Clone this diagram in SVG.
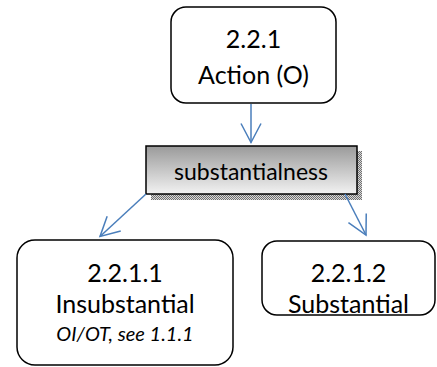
<svg xmlns="http://www.w3.org/2000/svg" width="437" height="367" viewBox="0 0 437 367">
<style>
.box{fill:#fff;stroke:#000;stroke-width:1.5}
.t{font-family:Lato,"Open Sans","Liberation Sans",sans-serif;font-size:25px;fill:#000;text-anchor:middle}
.it{font-style:italic;font-size:20px}
.sm{font-size:23px}
.conn{stroke:#4a7ebb;stroke-width:1.5;fill:none}
</style>
<defs>
<linearGradient id="g" x1="0" y1="0" x2="0" y2="1">
<stop offset="0" stop-color="#9a9a9a"/>
<stop offset="1" stop-color="#f2f2f2"/>
</linearGradient>
<pattern id="dots" width="2" height="2" patternUnits="userSpaceOnUse">
<rect width="2" height="2" fill="#d8d8d8"/>
<rect width="1" height="1" fill="#707070"/>
<rect x="1" y="1" width="1" height="1" fill="#707070"/>
</pattern>
<marker id="ah" markerUnits="userSpaceOnUse" markerWidth="24" markerHeight="24" viewBox="-21 -12 24 24" refX="0" refY="0" orient="auto">
<path d="M-19,-10 L0,0 L-19,10" fill="none" stroke="#4a7ebb" stroke-width="1.5"/>
</marker>
</defs>
<g id="n221">
<rect class="box" x="171" y="7" width="165" height="96" rx="15"/>
<text class="t" x="253.5" y="48">2.2.1</text>
<text class="t" x="253.5" y="84">Action (O)</text>
</g>
<g id="substantialness">
<rect x="151" y="151" width="211" height="49" fill="url(#dots)"/>
<rect x="146" y="146" width="211" height="48" fill="url(#g)" stroke="#000" stroke-width="1.5"/>
<text class="t sm" x="251" y="180">substantialness</text>
</g>
<g id="n2211">
<rect class="box" x="17" y="240" width="216" height="125" rx="18"/>
<text class="t" x="125" y="282">2.2.1.1</text>
<text class="t" x="125" y="313">Insubstantial</text>
<text class="t it" x="125" y="341">OI/OT, see 1.1.1</text>
</g>
<g id="n2212">
<rect class="box" x="262" y="241" width="173" height="74" rx="15"/>
<text class="t" x="348.5" y="282">2.2.1.2</text>
<text class="t" x="348.5" y="313">Substantial</text>
</g>
<g id="connectors">
<line class="conn" x1="251" y1="104" x2="251" y2="142.5" marker-end="url(#ah)"/>
<line class="conn" x1="146" y1="194" x2="100" y2="236.5" marker-end="url(#ah)"/>
<line class="conn" x1="345" y1="194" x2="366" y2="235" marker-end="url(#ah)"/>
</g>
</svg>
